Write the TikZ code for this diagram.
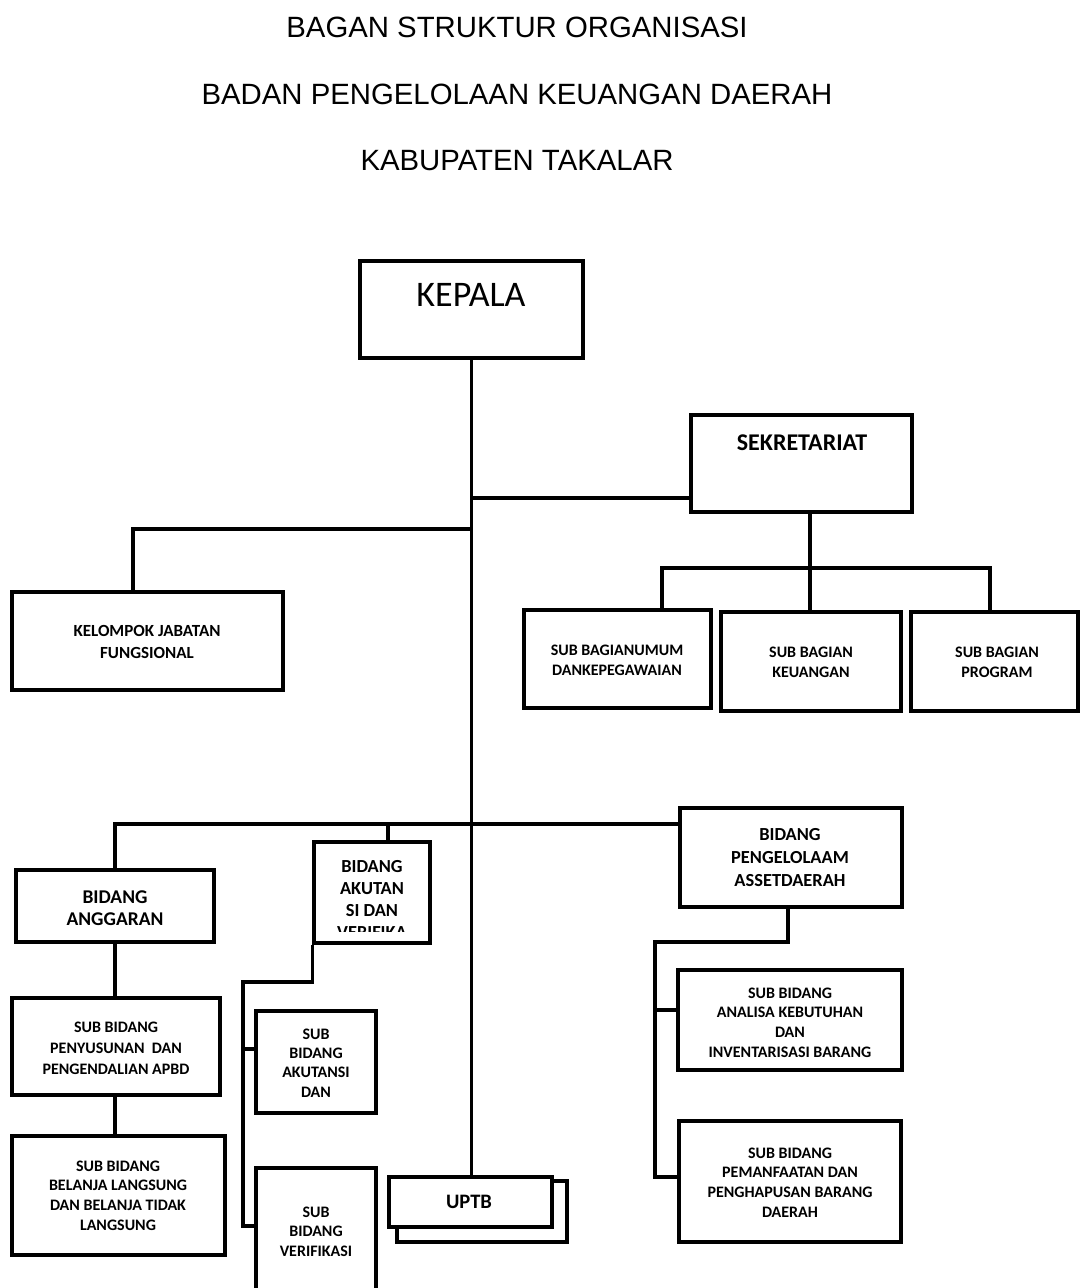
\documentclass[tikz,border=0pt]{standalone}
\usepackage{fontspec}
\setmainfont{Carlito}
\newfontfamily\titlefont{Liberation Sans}
\usetikzlibrary{fit}
\begin{document}
\begin{tikzpicture}[x=0.75pt,y=-0.75pt,
  box/.style={draw, fill=white, inner sep=0pt, line width=2.6pt},
  conn/.style={draw, line width=2.6pt},
  ttl/.style={font=\titlefont\fontsize{22}{26}\selectfont, inner sep=0pt},
  subt/.style={font=\bfseries\fontsize{12}{14.8}\selectfont, align=center, inner sep=0pt},
  bidt/.style={font=\bfseries\fontsize{13.8}{16.7}\selectfont, align=center, inner sep=0pt}]
\clip (0,0) rectangle (1080,1288);
\fill[white] (0,0) rectangle (1080,1288);

% titles
\node[ttl] (t1) at (517,27) {BAGAN STRUKTUR ORGANISASI};
\node[ttl] (t2) at (517,94) {BADAN PENGELOLAAN KEUANGAN DAERAH};
\node[ttl] (t3) at (517,161) {KABUPATEN TAKALAR};

% boxes
\node[box, fit={(360,261) (583,358)}] (kepala) {};
\node[box, fit={(691,415) (912,512)}] (sek) {};
\node[box, fit={(524,610) (711,708)}] (umum) {};
\node[box, fit={(721,612) (901,711)}] (keu) {};
\node[box, fit={(911,612) (1078,711)}] (prog) {};
\node[box, fit={(12,592) (283,690)}] (kel) {};
\node[box, fit={(16,870) (214,942)}] (ang) {};
\node[box, fit={(12,998) (220,1095)}] (pen) {};
\node[box, fit={(12,1136) (225,1255)}] (bel) {};
\node[box, fit={(314,842) (430,943)}] (akt) {};
\node[box, fit={(256,1011) (376,1113)}] (sakt) {};
\node[box, fit={(256,1168) (376,1320)}] (ver) {};
\node[box, fit={(397,1181) (567,1242)}] (uptbback) {};
\node[box, fit={(389,1177) (552,1227)}] (uptb) {};
\node[box, fit={(680,808) (902,907)}] (peng) {};
\node[box, fit={(678,970) (902,1070)}] (anal) {};
\node[box, fit={(679,1121) (901,1242)}] (pem) {};

% connection points
\coordinate (sekin) at (691,498);
\coordinate (sekbot) at (810,512);
\coordinate (sekbar) at (810,568);
\coordinate (umumin) at (662,610);
\coordinate (progin) at (990,612);
\coordinate (kelin) at (133,592);
\coordinate (kelj) at (471.5,529);
\coordinate (pengin) at (680,824);
\coordinate (aktin) at (388,842);
\coordinate (k1) at (243,982);
\coordinate (saktin) at (256,1049);
\coordinate (verin) at (256,1226);
\coordinate (p1) at (655,942);
\coordinate (analin) at (678,1010);
\coordinate (pemin) at (679,1177);

% connectors
\draw[conn] (kepala.south) -- (kepala.south |- uptb.north);
\draw[conn] (kepala.south |- sekin) -- (sekin);
\draw[conn] (sekbot) -- (sekbar);
\draw[conn] (umumin) |- (progin |- sekbar) -- (progin);
\draw[conn] (sekbar) -- (sekbar |- keu.north);
\draw[conn] (kelin) |- (kelj);
\draw[conn] (ang.north) |- (pengin);
\draw[conn] (aktin) -- (aktin |- pengin);
\draw[conn] (ang.south) -- (ang.south |- pen.north);
\draw[conn] (ang.south |- pen.south) -- (ang.south |- bel.north);
\draw[conn] (akt.south west) |- (k1) |- (verin);
\draw[conn] (k1 |- saktin) -- (saktin);
\draw[conn] (peng.south -| 788,0) |- (p1) |- (pemin);
\draw[conn] (p1 |- analin) -- (analin);

% texts
\node[font=\fontsize{27}{32}\selectfont, inner sep=0pt] (kepala-t) at (471,294.5) {KEPALA};
\node[font=\bfseries\fontsize{18}{22}\selectfont, inner sep=0pt] (sek-t) at (802,442.5) {SEKRETARIAT};
\node[subt, font=\bfseries\fontsize{12}{15}\selectfont] (umum-t) at (617,660) {SUB BAGIANUMUM\\DANKEPEGAWAIAN};
\node[subt, font=\bfseries\fontsize{12}{15}\selectfont] (keu-t) at (811,662) {SUB BAGIAN\\KEUANGAN};
\node[subt, font=\bfseries\fontsize{12}{15}\selectfont] (prog-t) at (997,662) {SUB BAGIAN\\PROGRAM};
\node[subt, font=\bfseries\fontsize{12.75}{16.5}\selectfont] (kel-t) at (147,642) {KELOMPOK JABATAN\\FUNGSIONAL};
\node[bidt, font=\bfseries\fontsize{14.6}{16.5}\selectfont] (ang-t) at (115,908.5) {BIDANG\\ANGGARAN};
\node[subt, font=\bfseries\fontsize{12}{15.9}\selectfont] (pen-t) at (116,1048) {SUB BIDANG\\PENYUSUNAN~~DAN\\PENGENDALIAN APBD};
\node[subt] (bel-t) at (118,1195.5) {SUB BIDANG\\BELANJA LANGSUNG\\DAN BELANJA TIDAK\\LANGSUNG};
\begin{scope}
\clip (316,844) rectangle (428,931);
\node[bidt] (akt-t) at (372,899.5) {BIDANG\\AKUTAN\\SI DAN\\VERIFIKA};
\end{scope}
\node[subt, font=\bfseries\fontsize{12}{14.5}\selectfont] (sakt-t) at (316,1063) {SUB\\BIDANG\\AKUTANSI\\DAN};
\node[subt, font=\bfseries\fontsize{12}{14.6}\selectfont] (ver-t) at (316,1231.5) {SUB\\BIDANG\\VERIFIKASI};
\node[font=\bfseries\fontsize{15.4}{18}\selectfont, inner sep=0pt] (uptb-t) at (469,1202) {UPTB};
\node[bidt, font=\bfseries\fontsize{13.8}{16.9}\selectfont] (peng-t) at (790,857.5) {BIDANG\\PENGELOLAAM\\ASSETDAERAH};
\node[subt] (anal-t) at (790,1022.5) {SUB BIDANG\\ANALISA KEBUTUHAN\\DAN\\INVENTARISASI BARANG};
\node[subt] (pem-t) at (790,1182.5) {SUB BIDANG\\PEMANFAATAN DAN\\PENGHAPUSAN BARANG\\DAERAH};
\end{tikzpicture}
\end{document}
